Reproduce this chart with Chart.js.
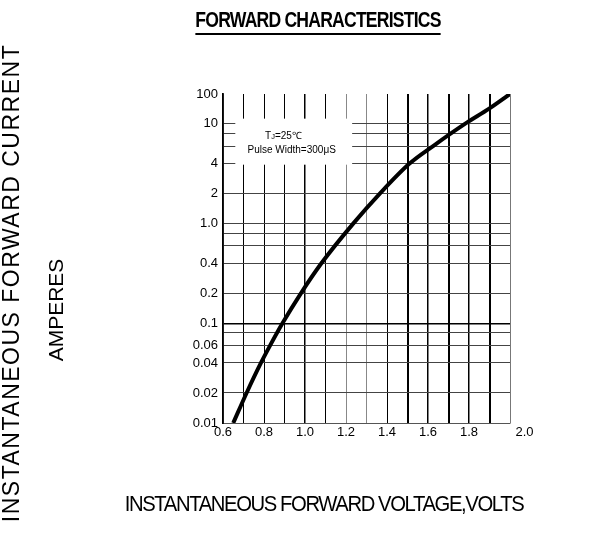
<!DOCTYPE html>
<html>
<head>
<meta charset="utf-8">
<script src="https://cdn.jsdelivr.net/npm/chart.js@4.4.1/dist/chart.umd.min.js"></script>
<style>
html,body{margin:0;padding:0;background:#fff;}
#wrap{width:610px;height:552px;position:relative;}
</style>
</head>
<body>
<div id="wrap"><canvas id="c" width="610" height="552"></canvas></div>
<script>
// ---- data ----
const voltage = [0.65, 0.715, 0.785, 0.83, 0.89, 0.98, 1.08, 1.235, 1.365, 1.51, 1.625, 1.78, 1.90, 2.00];
const current = [0.01, 0.02, 0.04, 0.06, 0.1, 0.2, 0.4, 1.0, 2, 4, 6, 10, 33, 100];

const xGridValues = [0.6, 0.7, 0.8, 0.9, 1.0, 1.1, 1.2, 1.3, 1.4, 1.5, 1.6, 1.7, 1.8, 1.9, 2.0];
const xTickLabels = ['0.6', '', '0.8', '', '1.0', '', '1.2', '', '1.4', '', '1.6', '', '1.8', '', '2.0'];
const yGridValues = [0.01, 0.02, 0.04, 0.06, 0.08, 0.1, 0.2, 0.4, 0.6, 0.8, 1, 2, 4, 6, 8, 10, 100];
const yTickLabels = ['0.01', '0.02', '0.04', '0.06', '', '0.1', '0.2', '0.4', '', '', '1.0', '2', '4', '', '', '10', '100'];

const chartTitle = 'FORWARD CHARACTERISTICS';
const xTitle = 'INSTANTANEOUS FORWARD VOLTAGE,VOLTS';
const yTitle = ['INSTANTANEOUS FORWARD CURRENT', 'AMPERES'];
const noteLine1 = ['T', 'J', '=25\u2103'];
const noteLine2 = 'Pulse Width=300\u03bcS';

// ---- styles ----
const xGridWidth = [1.5, 1, 1, 1, 1.5, 1, 1, 1, 1, 2, 1.5, 2, 1.5, 2, 1];
const xGridColor = ['#000', '#000', '#000', '#000', '#000', '#000', '#888', '#888', '#000', '#000', '#000', '#000', '#000', '#000', '#777'];
const SANS = "'Liberation Sans', Arial, sans-serif";

// ---- datasheet style log axis: log decades up to 10, compressed decade 10..100 ----
const LogBase = Chart.LogarithmicScale || Chart.registry.getScale('logarithmic');
class DatasheetLogScale extends LogBase {
  _t(v) { const l = Math.log10(v); return l <= 1 ? l : 1 + 0.3 * (l - 1); }
  getPixelForValue(value) {
    if (value === undefined || value === 0) value = this.min;
    if (value === null || isNaN(value)) return NaN;
    const a = this._t(this.min), b = this._t(this.max);
    return this.getPixelForDecimal((this._t(value) - a) / (b - a));
  }
  getValueForPixel(pixel) {
    const a = this._t(this.min), b = this._t(this.max);
    const t = a + this.getDecimalForPixel(pixel) * (b - a);
    const l = t <= 1 ? t : 1 + (t - 1) / 0.3;
    return Math.pow(10, l);
  }
}
DatasheetLogScale.id = 'datasheetLog';
DatasheetLogScale.defaults = LogBase.defaults;
Chart.register(DatasheetLogScale);

// ---- custom text placement for titles ----
function drawXTitle() {
  const ctx = this.ctx, o = this.options.title;
  ctx.save();
  ctx.fillStyle = o.color;
  ctx.font = '22px ' + SANS;
  ctx.textAlign = 'center';
  ctx.textBaseline = 'middle';
  ctx.translate(324, 505);
  ctx.scale(0.92, 1);
  ctx.letterSpacing = '-1.5px';
  ctx.fillText(o.text, 0, 0);
  ctx.restore();
}
function drawYTitle() {
  const ctx = this.ctx, o = this.options.title, t = o.text;
  ctx.save();
  ctx.fillStyle = o.color;
  ctx.textAlign = 'center';
  ctx.textBaseline = 'middle';
  ctx.save();
  ctx.font = '23px ' + SANS;
  ctx.translate(13, 283);
  ctx.rotate(-Math.PI / 2);
  ctx.letterSpacing = '1.5px';
  ctx.fillText(t[0], 0, 0);
  ctx.restore();
  ctx.save();
  ctx.font = '21px ' + SANS;
  ctx.translate(57, 310);
  ctx.rotate(-Math.PI / 2);
  ctx.fillText(t[1], 0, 0);
  ctx.restore();
  ctx.restore();
}
function drawMainTitle() {
  const ctx = this.ctx, o = this.options;
  ctx.save();
  ctx.fillStyle = o.color;
  ctx.font = 'bold 22px ' + SANS;
  ctx.textAlign = 'center';
  ctx.textBaseline = 'middle';
  ctx.translate(318, 21);
  ctx.scale(0.8, 1);
  ctx.letterSpacing = '-1px';
  ctx.fillText(o.text, 0, 0);
  const w = ctx.measureText(o.text).width;
  ctx.strokeStyle = o.color;
  ctx.lineWidth = 2;
  ctx.beginPath();
  ctx.moveTo(-w / 2, 13);
  ctx.lineTo(w / 2, 13);
  ctx.stroke();
  ctx.restore();
}

// ---- note box ----
const notePlugin = {
  id: 'note',
  beforeDraw(chart) {
    const tb = chart.titleBlock;
    if (tb && !tb._custom) { tb._custom = true; tb.draw = drawMainTitle; }
  },
  beforeDatasetsDraw(chart) {
    const {ctx, scales: {x, y}} = chart;
    const x0 = x.getPixelForValue(0.66), x1 = x.getPixelForValue(1.23);
    const yt = y.getPixelForValue(15), yb = y.getPixelForValue(3.9);
    ctx.save();
    ctx.fillStyle = '#fff';
    ctx.fillRect(x0, yt, x1 - x0, yb - yt);
    ctx.fillStyle = '#000';
    ctx.textBaseline = 'middle';
    const big = '10px ' + SANS, small = '7.5px ' + SANS;
    ctx.font = big; const w1 = ctx.measureText(noteLine1[0]).width;
    const w3 = ctx.measureText(noteLine1[2]).width;
    ctx.font = small; const w2 = ctx.measureText(noteLine1[1]).width;
    const cx1 = x.getPixelForValue(0.895);
    let sx = cx1 - (w1 + w2 + w3) / 2;
    const y1 = y.getPixelForValue(7.6), y2 = y.getPixelForValue(5.5);
    ctx.textAlign = 'left';
    ctx.font = big; ctx.fillText(noteLine1[0], sx, y1); sx += w1;
    ctx.font = small; ctx.fillText(noteLine1[1], sx, y1 + 1); sx += w2;
    ctx.font = big; ctx.fillText(noteLine1[2], sx, y1);
    ctx.textAlign = 'center';
    ctx.fillText(noteLine2, x.getPixelForValue(0.935), y2);
    ctx.restore();
  }
};

new Chart(document.getElementById('c'), {
  type: 'line',
  data: {
    datasets: [{
      data: voltage.map((v, i) => ({x: v, y: current[i]})),
      borderColor: '#000',
      borderWidth: 4,
      pointRadius: 0,
      cubicInterpolationMode: 'monotone',
      fill: false
    }]
  },
  options: {
    responsive: false,
    animation: false,
    events: [],
    layout: {padding: {left: 0, right: 0, top: 0, bottom: 0}},
    plugins: {
      legend: {display: false},
      tooltip: {enabled: false},
      title: {
        display: true,
        text: chartTitle,
        color: '#000',
        font: {family: SANS, size: 21, weight: 'bold', lineHeight: 1.2},
        padding: {top: 8, bottom: 60.8}
      }
    },
    scales: {
      x: {
        type: 'linear',
        min: 0.6,
        max: 2.0,
        afterBuildTicks(s) { s.ticks = xGridValues.map(v => ({value: v})); },
        afterFit(s) { s.height = 552 - 423; s.drawTitle = drawXTitle; },
        ticks: {
          autoSkip: false, maxRotation: 0, padding: 2,
          color: '#000', font: {family: SANS, size: 13},
          callback: (v, i) => (i === xTickLabels.length - 1 ? '        ' : '') + xTickLabels[i]
        },
        grid: {
          drawTicks: false,
          color: (c) => xGridColor[c.index] || '#000',
          lineWidth: (c) => xGridWidth[c.index] || 1
        },
        border: {display: true, color: '#555', width: 1},
        title: {display: true, text: xTitle, color: '#000', font: {family: SANS, size: 22}}
      },
      y: {
        type: 'datasheetLog',
        min: 0.01,
        max: 100,
        afterBuildTicks(s) { s.ticks = yGridValues.map(v => ({value: v})); },
        afterFit(s) { s.width = 223; s.drawTitle = drawYTitle; },
        ticks: {
          autoSkip: false, padding: 5,
          color: '#000', font: {family: SANS, size: 13},
          callback: (v, i) => yTickLabels[i]
        },
        grid: {
          drawTicks: false,
          color: (c) => c.index === yGridValues.length - 1 ? 'rgba(0,0,0,0)' : (c.index === 5 ? '#000' : '#444'),
          lineWidth: (c) => c.index === 5 ? 1.5 : 1
        },
        border: {display: true, color: '#000', width: 1.8},
        title: {display: true, text: yTitle, color: '#000', font: {family: SANS, size: 20}}
      },
      yRight: {
        type: 'linear',
        position: 'right',
        display: true,
        afterFit(s) { s.width = 100; },
        ticks: {display: false},
        grid: {display: false, drawTicks: false},
        border: {display: false}
      }
    }
  },
  plugins: [notePlugin]
});
</script>
</body>
</html>
